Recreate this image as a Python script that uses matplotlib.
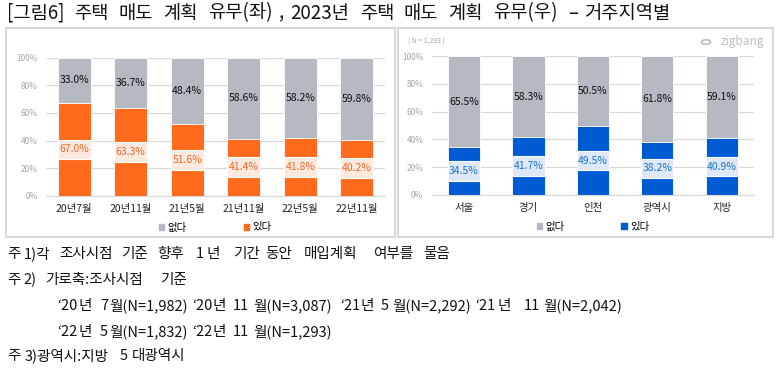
import matplotlib.pyplot as plt
from matplotlib.patches import Rectangle, Patch, Circle
import numpy as np

plt.rcParams['font.family'] = ['Noto Sans CJK KR', 'DejaVu Sans']

# left panel: survey periods
periods = ["20년7월", "20년11월", "21년5월", "21년11월", "22년5월", "22년11월"]
sell_yes_t = [67.0, 63.3, 51.6, 41.4, 41.8, 40.2]
sell_no_t = [33.0, 36.7, 48.4, 58.6, 58.2, 59.8]

# right panel: regions, 2023
regions = ["서울", "경기", "인천", "광역시", "지방"]
sell_yes_r = [34.5, 41.7, 49.5, 38.2, 40.9]
sell_no_r = [65.5, 58.3, 50.5, 61.8, 59.1]

W, H = 780, 374
fig = plt.figure(figsize=(W / 100, H / 100), dpi=100)


def px_axes(x0, y0, x1, y1):
    return fig.add_axes([x0 / W, 1 - y1 / H, (x1 - x0) / W, (y1 - y0) / H])


def stacked(ax, cats, yes, no, c_yes, c_band, c_lab, width):
    x = np.arange(len(cats))
    yes = np.array(yes)
    no = np.array(no)
    ax.bar(x, no, width, bottom=yes, color="#B4B9C2", edgecolor="white", linewidth=0.6, zorder=2)
    ax.bar(x, yes, width, color=c_yes, edgecolor="white", linewidth=0.6, zorder=2)
    band = 14
    ax.bar(x, band, width, bottom=yes / 2 - band / 2, color=c_band, edgecolor="white", linewidth=0.8, zorder=3)
    for i in range(len(cats)):
        ax.text(x[i], yes[i] / 2, f"{yes[i]:.1f}%", ha="center", va="center",
                color=c_lab, fontsize=7.5, zorder=4)
        ax.text(x[i], yes[i] + no[i] / 2, f"{no[i]:.1f}%", ha="center", va="center",
                color="#111111", fontsize=7.5, zorder=4)
    ax.set_xlim(-0.5, len(cats) - 0.5)
    ax.set_ylim(0, 100)
    ax.set_yticks(range(0, 101, 20))
    ax.set_yticklabels([f"{v}%" for v in range(0, 101, 20)], fontsize=6, color="#A6A6A6")
    ax.set_xticks(x)
    ax.set_xticklabels(cats, fontsize=7.5, color="#222222")
    ax.tick_params(length=0, pad=6)
    ax.grid(axis="y", color="#D9D9D9", linewidth=0.9, zorder=0)
    for s in ["top", "right", "left"]:
        ax.spines[s].set_visible(False)
    ax.spines["bottom"].set_color("#D9D9D9")
    handles = [Patch(color="#B4B9C2", label="없다"), Patch(color=c_yes, label="있다")]
    ax.legend(handles=handles, ncol=2, loc="center", bbox_to_anchor=(0.5, -0.23),
              frameon=False, fontsize=7.5, handlelength=0.5, handleheight=0.5,
              handletextpad=0.3, columnspacing=5.5)


ax1 = px_axes(46, 57.7, 385, 195.7)
stacked(ax1, periods, sell_yes_t, sell_no_t, "#FF6A1C", "#FDE9DE", "#EE6A2A", 0.585)

ax2 = px_axes(431.7, 56, 754, 195)
stacked(ax2, regions, sell_yes_r, sell_no_r, "#005BD2", "#DDE8F8", "#1E74D0", 0.5)

# panel frames
for x0, x1 in [(6, 395), (398, 773)]:
    fig.patches.append(Rectangle((x0 / W, 1 - 237 / H), (x1 - x0) / W, (237 - 28) / H,
                                 transform=fig.transFigure, fill=False,
                                 edgecolor="#D9D9D9", linewidth=1.5))

fig.text(408 / W, 1 - 42 / H, "( N = 1,293 )", fontsize=5, style="italic",
         color="#A6A6A6", va="center")
fig.patches.append(Circle((706 / W, 1 - 42 / H), 4.5 / W, transform=fig.transFigure,
                          fill=False, edgecolor="#BDBDBD", linewidth=1.2))
fig.text(764 / W, 1 - 42 / H, "zigbang", fontsize=8.5, fontweight="medium",
         color="#BDBDBD", va="center", ha="right")


def words(y, items, size):
    for x, t in items:
        fig.text(x / W, 1 - y / H, t, fontsize=size, va="center", color="#111111")


# title, word by word (justified spacing in the source)
words(13, [(7, "[그림6]"), (74, "주택"), (118, "매도"), (163, "계획"), (208, "유무(좌)"),
           (279, ","), (290, "2023년"), (360, "주택"), (403, "매도"), (448, "계획"),
           (493, "유무(우)"), (568, "–"), (584, "거주지역별")], 13.5)

fs = 10.5
words(254, [(7, "주"), (24, "1)각"), (59, "조사시점"), (121, "기준"), (157, "향후"),
            (196, "1"), (206, "년"), (233, "기간"), (265, "동안"), (304, "매입계획"),
            (373, "여부를"), (423, "물음")], fs)
words(280, [(7, "주"), (23, "2)"), (45, "가로축:조사시점"), (160, "기준")], fs)
words(306, [(57, "‘20"), (79, "년"), (100, "7"), (109, "월(N=1,982)"),
            (192, "‘20"), (213, "년"), (233, "11"), (253, "월(N=3,087)"),
            (340, "‘21"), (361, "년"), (381, "5"), (392, "월(N=2,292)"),
            (475, "‘21"), (498, "년"), (524, "11"), (543, "월(N=2,042)")], fs)
words(332, [(57, "‘22"), (79, "년"), (100, "5"), (109, "월(N=1,832)"),
            (192, "‘22"), (213, "년"), (233, "11"), (253, "월(N=1,293)")], fs)
words(356, [(7, "주"), (25, "3)광역시:지방"), (120, "5"), (132, "대광역시")], fs)

fig.savefig("out.png", dpi=100)
